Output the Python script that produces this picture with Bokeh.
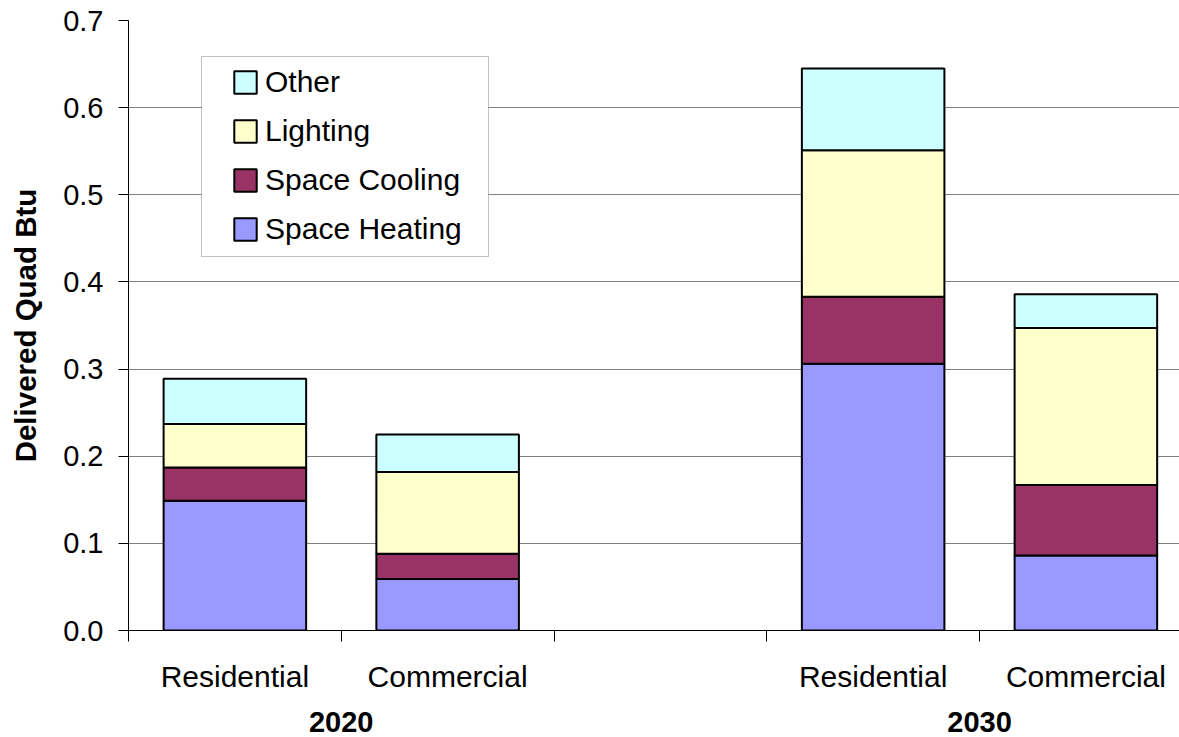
from bokeh.plotting import figure
from bokeh.models import (Range1d, FixedTicker, Legend, LegendItem, BoxAnnotation,
                          LinearAxis, ColumnDataSource, NumeralTickFormatter)
from bokeh.embed import file_html
from bokeh.resources import INLINE

# ---- data -------------------------------------------------------------
years = ["2020", "2020", "2030", "2030"]
sectors = ["Residential", "Commercial", "Residential", "Commercial"]
space_heating = [0.149, 0.059, 0.306, 0.086]
space_cooling = [0.038, 0.029, 0.077, 0.081]
lighting = [0.050, 0.094, 0.168, 0.180]
other = [0.052, 0.043, 0.094, 0.039]
series = ["Space Heating", "Space Cooling", "Lighting", "Other"]
y_ticks = [0.0, 0.1, 0.2, 0.3, 0.4, 0.5, 0.6, 0.7]

colors = ["#9999FF", "#993366", "#FFFFCC", "#CCFFFF"]
FONT = "Liberation Sans"

# slot positions: one empty slot between year groups
xs = []
slot = 0
prev = None
for yr in years:
    if prev is not None and yr != prev:
        slot += 1
    xs.append(slot + 0.5)
    slot += 1
    prev = yr
boundaries = list(range(0, slot + 1))

group_names = list(dict.fromkeys(years))
group_centers = []
for yr in group_names:
    gx = [x for x, y in zip(xs, years) if y == yr]
    group_centers.append(sum(gx) / len(gx))

src = ColumnDataSource(dict(x=xs, year=years, sector=sectors,
                            **{"Space Heating": space_heating,
                               "Space Cooling": space_cooling,
                               "Lighting": lighting,
                               "Other": other}))

p = figure(width=1179, height=737, output_backend="svg", toolbar_location=None,
           x_range=Range1d(0, 4.94), y_range=Range1d(0, 0.7),
           min_border_left=128, min_border_right=0, min_border_top=20,
           min_border_bottom=107)
p.outline_line_color = None
p.background_fill_color = "white"
p.border_fill_color = "white"

renderers = p.vbar_stack(series, x="x", width=0.67, source=src,
                         fill_color=colors, line_color="black", line_width=2)

# ---- axes -------------------------------------------------------------
xa = p.xaxis[0]
xa.ticker = FixedTicker(ticks=xs, minor_ticks=boundaries)
xa.major_label_overrides = {float(x): s for x, s in zip(xs, sectors)}
xa.major_tick_out = 0
xa.major_tick_in = 0
xa.minor_tick_out = 11
xa.minor_tick_in = 0
xa.minor_tick_line_color = "black"
xa.axis_line_color = "black"
xa.major_label_text_font = FONT
xa.major_label_text_font_size = "30px"
xa.major_label_text_color = "black"
xa.major_label_standoff = 18

# year group labels as a second, line-less axis below
ga = LinearAxis(ticker=FixedTicker(ticks=group_centers, minor_ticks=[]))
ga.major_label_overrides = {float(c): n for c, n in zip(group_centers, group_names)}
ga.axis_line_color = None
ga.major_tick_line_color = None
ga.minor_tick_line_color = None
ga.major_tick_out = 0
ga.major_tick_in = 0
ga.major_label_standoff = 16
ga.major_label_text_font = FONT
ga.major_label_text_font_size = "29px"
ga.major_label_text_font_style = "bold"
ga.major_label_text_color = "black"
p.add_layout(ga, "below")

ya = p.yaxis[0]
ya.ticker = FixedTicker(ticks=y_ticks)
ya.formatter = NumeralTickFormatter(format="0.0")
ya.major_tick_out = 10
ya.major_tick_in = 0
ya.minor_tick_line_color = None
ya.axis_line_color = "black"
ya.major_tick_line_color = "black"
ya.major_label_text_font = FONT
ya.major_label_text_font_size = "29px"
ya.major_label_text_color = "black"
ya.major_label_standoff = 15
ya.axis_label = "Delivered Quad Btu"
ya.axis_label_text_font = FONT
ya.axis_label_text_font_size = "29.5px"
ya.axis_label_text_font_style = "bold"
ya.axis_label_text_color = "black"
ya.axis_label_standoff = 18

p.xgrid.visible = False
p.ygrid.grid_line_color = "#808080"
p.ygrid.grid_line_width = 1

# ---- legend -------------------------------------------------------------
box = BoxAnnotation(left=73, right=360, bottom=374, top=574,
                    left_units="screen", right_units="screen",
                    bottom_units="screen", top_units="screen",
                    fill_color="white", fill_alpha=1.0,
                    line_color="#333333", line_width=1)
p.add_layout(box)

items = [LegendItem(label=name, renderers=[r]) for name, r in zip(series, renderers)][::-1]
legend = Legend(items=items, location=(93, 374), orientation="vertical",
                glyph_width=28, glyph_height=28, label_height=33, spacing=15,
                padding=10, margin=0, label_standoff=6,
                label_text_font=FONT, label_text_font_size="30px",
                label_text_color="black",
                background_fill_alpha=0, border_line_alpha=0)
p.add_layout(legend, "center")

open("out.html", "w").write(file_html(p, INLINE))
